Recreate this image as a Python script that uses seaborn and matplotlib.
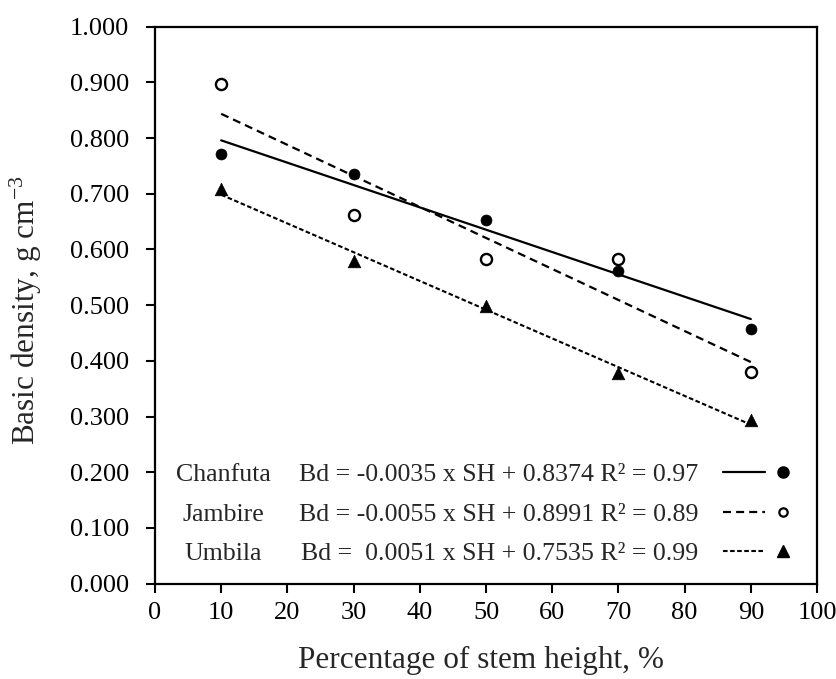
import matplotlib
matplotlib.use('Agg')
import matplotlib.pyplot as plt
from matplotlib.lines import Line2D
from matplotlib.ticker import FormatStrFormatter
import seaborn as sns
import pandas as pd
import numpy as np

# basic density along the stem
stem_height = [10, 30, 50, 70, 90]
chanfuta = [0.771, 0.735, 0.653, 0.561, 0.457]
jambire = [0.897, 0.662, 0.582, 0.582, 0.380]
umbila = [0.709, 0.580, 0.498, 0.378, 0.294]

species = ['Chanfuta', 'Jambire', 'Umbila']
equations = ['Bd = -0.0035 x SH + 0.8374 R\u00b2 = 0.97',
             'Bd = -0.0055 x SH + 0.8991 R\u00b2 = 0.89',
             'Bd =  0.0051 x SH + 0.7535 R\u00b2 = 0.99']

df = pd.DataFrame({
    'SH': stem_height * 3,
    'Bd': chanfuta + jambire + umbila,
    'species': np.repeat(species, len(stem_height)),
})

sns.set_style('ticks')
plt.rcParams['font.family'] = ['Liberation Serif', 'DejaVu Serif']
plt.rcParams['mathtext.fontset'] = 'custom'
plt.rcParams['mathtext.rm'] = 'Liberation Serif'
plt.rcParams['mathtext.default'] = 'regular'

# marker / line style per species
styles = {
    'Chanfuta': dict(marker='o', s=62, fc='black', ec='black', lw=1.6, ls='-', ms=8, mew=1.0),
    'Jambire': dict(marker='o', s=64, fc='white', ec='black', lw=1.6, ls=(0, (3.6, 2.3)), ms=6, mew=1.6),
    'Umbila': dict(marker='^', s=82, fc='black', ec='black', lw=1.5, ls=(0, (2.2, 1.2)), ms=8.5, mew=1.0),
}

fig = plt.figure(figsize=(8.36, 6.79), dpi=100)
ax = fig.add_axes([0.1854, 0.1405, 0.7919, 0.8203])

for sp in species:
    st = styles[sp]
    sub = df[df['species'] == sp]
    sns.regplot(data=sub, x='SH', y='Bd', ax=ax, ci=None, color='black',
                marker=st['marker'],
                scatter_kws=dict(s=st['s'], facecolor=st['fc'], edgecolor=st['ec'],
                                 linewidths=1.7 if st['fc'] == 'white' else 0.5,
                                 alpha=1, zorder=3),
                line_kws=dict(lw=st['lw'], linestyle=st['ls'], zorder=2))

ax.set_xlim(0, 100)
ax.set_ylim(0, 1.0)
ax.set_xticks(range(0, 101, 10))
ax.set_yticks(np.arange(0, 1.01, 0.1))
ax.yaxis.set_major_formatter(FormatStrFormatter('%.3f'))
ax.tick_params(direction='out', length=6.5, width=1.5, labelsize=19, colors='black')
ax.tick_params(axis='y', pad=12)
ax.tick_params(axis='x', pad=6.5)
for s in ax.spines.values():
    s.set_visible(True)
    s.set_linewidth(1.6)
    s.set_color('black')

ax.set_xlabel('Percentage of stem height, %', fontsize=22.5)
ax.set_ylabel('Basic density, g cm$^{-3}$', fontsize=22.5)
ax.xaxis.set_label_coords(0.492, -0.112)
ax.yaxis.set_label_coords(-0.168, 0.49)
ax.xaxis.label.set_verticalalignment('top')

line_handles = [Line2D([], [], color='black', lw=styles[sp]['lw'], ls=styles[sp]['ls'])
                for sp in species]
marker_handles = [Line2D([], [], color='black', ls='none', marker=styles[sp]['marker'],
                         ms=styles[sp]['ms'], mfc=styles[sp]['fc'], mec='black',
                         mew=styles[sp]['mew'])
                  for sp in species]

leg = ax.legend(handles=line_handles + marker_handles, labels=equations + [''] * 3,
                ncol=2, markerfirst=False, frameon=False, fontsize=18.6,
                handlelength=1.63, handletextpad=0.93, columnspacing=-1.05,
                labelspacing=0.64, borderpad=0, borderaxespad=0,
                loc='upper right', bbox_to_anchor=(0.980, 0.2165))

# species names next to their equations
fig.canvas.draw()
inv = ax.transAxes.inverted()
for sp, t in zip(species, leg.get_texts()[:3]):
    bb = t.get_window_extent()
    cy = inv.transform((0, (bb.y0 + bb.y1) / 2))[1]
    ax.text(0.1027, cy, sp, ha='center', va='center', fontsize=18.6,
            transform=ax.transAxes)

fig.savefig('out.png', dpi=100)
